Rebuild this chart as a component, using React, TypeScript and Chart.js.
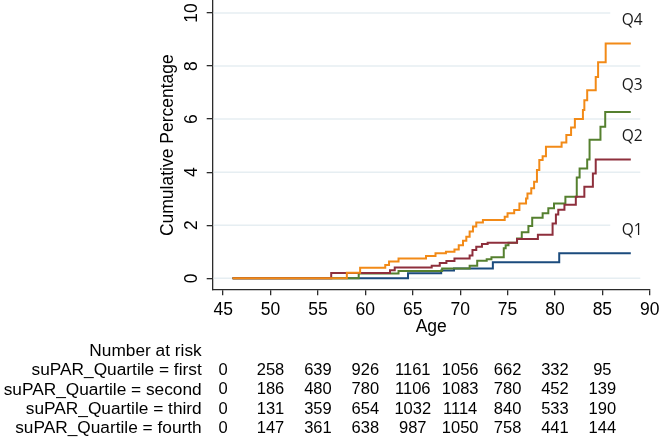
import { useEffect, useRef } from "react";
import { Chart, registerables } from "chart.js";

Chart.register(...registerables);

// ---- Data ----
const q1Age = [46, 64.5, 68.0, 69.35, 73.45, 80.45, 88];
const q1Pct = [0, 0.19, 0.29, 0.37, 0.61, 0.94, 0.94];

const q2Age = [46, 56.4, 62.6, 63.1, 67.0, 67.85, 68.55, 69.4, 71.0, 71.3, 71.7, 72.3, 72.9, 76.0, 78.2, 79.75, 80.1, 80.35, 81.0, 82.2, 83.1, 84.0, 84.3, 88];
const q2Pct = [0, 0.2, 0.3, 0.41, 0.47, 0.58, 0.65, 0.75, 0.86, 1.07, 1.19, 1.29, 1.34, 1.48, 1.64, 2.07, 2.4, 2.58, 2.77, 3.07, 3.45, 3.95, 4.48, 4.48];

const q3Age = [46, 59.3, 63.5, 68.1, 71.0, 71.8, 72.8, 73.3, 74.6, 74.8, 75.1, 76.0, 76.5, 77.2, 77.6, 78.7, 79.3, 79.9, 81.1, 82.3, 82.6, 83.4, 83.65, 84.8, 85.3, 88];
const q3Pct = [0, 0.18, 0.28, 0.37, 0.47, 0.66, 0.72, 0.79, 1.13, 1.25, 1.34, 1.5, 1.74, 1.97, 2.28, 2.45, 2.64, 2.82, 3.07, 3.8, 4.14, 4.48, 5.22, 5.71, 6.27, 6.27];

const q4Age = [46, 58.05, 59.45, 62.1, 62.5, 63.5, 66.4, 67.4, 68.5, 69.4, 69.85, 70.3, 70.65, 71.0, 71.35, 71.7, 72.4, 74.7, 75.0, 75.7, 76.25, 76.95, 77.1, 77.5, 77.8, 78.1, 78.35, 78.7, 79.05, 80.7, 81.2, 81.7, 82.1, 82.95, 83.1, 83.4, 84.3, 84.55, 85.35, 88];
const q4Pct = [0, 0.21, 0.4, 0.5, 0.63, 0.75, 0.84, 0.94, 1.0, 1.09, 1.25, 1.42, 1.57, 1.76, 1.95, 2.1, 2.2, 2.32, 2.45, 2.57, 2.82, 3.01, 3.2, 3.39, 3.64, 4.08, 4.46, 4.6, 4.96, 5.12, 5.4, 5.68, 6.0, 6.34, 6.71, 7.09, 7.59, 8.14, 8.85, 8.85];

const seriesNames = ["Q1", "Q2", "Q3", "Q4"];
const xTicks = [45, 50, 55, 60, 65, 70, 75, 80, 85, 90];
const yTicks = [0, 2, 4, 6, 8, 10];

const riskAges = [45, 50, 55, 60, 65, 70, 75, 80, 85];
const riskLabels = [
  "suPAR_Quartile = first",
  "suPAR_Quartile = second",
  "suPAR_Quartile = third",
  "suPAR_Quartile = fourth",
];
const riskFirst = [0, 258, 639, 926, 1161, 1056, 662, 332, 95];
const riskSecond = [0, 186, 480, 780, 1106, 1083, 780, 452, 139];
const riskThird = [0, 131, 359, 654, 1032, 1114, 840, 533, 190];
const riskFourth = [0, 147, 361, 638, 987, 1050, 758, 441, 144];

// ---- Styling ----
const FONT = "'Liberation Sans', Arial, sans-serif";
const LABEL_FONT = "'Open Sans', 'Noto Sans', sans-serif";
const AXIS = "#2b2b2b";
const GRID = "#e6eef2";
const COLORS = ["#1b4b7d", "#8e2f3c", "#55802f", "#f28a17"];
const LABEL_AT_X = 88.15;
const LABEL_AT_Y = [1.78, 5.33, 7.28, 9.7];
const GRID_END = 89.0;

const toPts = (ages: number[], pct: number[]) => ages.map((a, i) => ({ x: a, y: pct[i] }));

const overlay = {
  id: "overlay",
  beforeDatasetsDraw(chart: any) {
    const { ctx, chartArea, scales } = chart;
    const x = scales.x;
    const y = scales.y;
    ctx.save();
    ctx.strokeStyle = GRID;
    ctx.lineWidth = 1.5;
    const xEnd = x.getPixelForValue(GRID_END);
    yTicks.forEach((v) => {
      const py = y.getPixelForValue(v);
      ctx.beginPath();
      ctx.moveTo(chartArea.left + 1, py);
      ctx.lineTo(xEnd, py);
      ctx.stroke();
    });
    // series labels with white boxes
    ctx.font = `15.5px ${LABEL_FONT}`;
    ctx.textAlign = "center";
    ctx.textBaseline = "middle";
    seriesNames.forEach((name, i) => {
      const px = x.getPixelForValue(LABEL_AT_X);
      const py = y.getPixelForValue(LABEL_AT_Y[i]);
      ctx.fillStyle = "#ffffff";
      ctx.fillRect(px - 22, py - 12, 44, 22);
      ctx.fillStyle = "#1a1a1a";
      ctx.fillText(name, px, py);
    });
    ctx.restore();
  },
  afterDraw(chart: any) {
    const { ctx, chartArea, scales } = chart;
    const x = scales.x;
    const y = scales.y;
    ctx.save();
    ctx.fillStyle = "#000";
    ctx.font = `17.5px ${FONT}`;
    ctx.textAlign = "center";
    ctx.textBaseline = "middle";
    yTicks.forEach((v) => {
      const py = y.getPixelForValue(v);
      ctx.save();
      ctx.translate(chartArea.left - 21, py);
      ctx.rotate(-Math.PI / 2);
      ctx.fillText(String(v), 0, 0);
      ctx.restore();
    });
    // number at risk table
    const rows = [riskFirst, riskSecond, riskThird, riskFourth];
    const top = 351;
    const rowH = 19.4;
    ctx.font = `17.3px ${FONT}`;
    ctx.textAlign = "right";
    ctx.fillText("Number at risk", chartArea.left - 11, top);
    rows.forEach((row, r) => {
      const py = top + rowH * (r + 1);
      ctx.textAlign = "right";
      ctx.font = `17.3px ${FONT}`;
      ctx.fillText(riskLabels[r], chartArea.left - 11, py);
      ctx.textAlign = "center";
      ctx.font = `16.5px ${FONT}`;
      row.forEach((n, c) => {
        ctx.fillText(String(n), x.getPixelForValue(riskAges[c]), py);
      });
    });
    ctx.restore();
  },
};

export default function App() {
  const ref = useRef<HTMLCanvasElement | null>(null);
  useEffect(() => {
    if (!ref.current) return;
    const series = [
      toPts(q1Age, q1Pct),
      toPts(q2Age, q2Pct),
      toPts(q3Age, q3Pct),
      toPts(q4Age, q4Pct),
    ];
    const orders = [3, 1, 2, 0];
    const chart = new Chart(ref.current, {
      type: "line",
      data: {
        datasets: series.map((d, i) => ({
          label: seriesNames[i],
          data: d,
          stepped: true,
          borderColor: COLORS[i],
          backgroundColor: COLORS[i],
          borderWidth: 2,
          pointRadius: 0,
          fill: false,
          order: orders[i],
        })),
      },
      options: {
        animation: false,
        responsive: false,
        maintainAspectRatio: false,
        devicePixelRatio: 1,
        layout: { padding: { left: 0, top: 1, right: 11.3, bottom: 103.7 } },
        plugins: { legend: { display: false }, tooltip: { enabled: false } },
        scales: {
          x: {
            type: "linear",
            min: 43.9,
            max: 90,
            afterBuildTicks: (s: any) => {
              s.ticks = xTicks.map((v) => ({ value: v }));
            },
            afterFit: (s: any) => {
              s.height = 48;
            },
            ticks: {
              autoSkip: false,
              maxRotation: 0,
              padding: 4.5,
              color: "#000",
              font: { family: FONT, size: 17.5 },
            },
            grid: { display: true, drawOnChartArea: false, drawTicks: true, tickLength: 6, color: AXIS, lineWidth: 1.3 },
            border: { display: true, color: AXIS, width: 1.3 },
            title: { display: true, text: "Age", color: "#000", font: { family: FONT, size: 17.5 }, padding: 0 },
          },
          y: {
            type: "linear",
            min: -0.414,
            max: 10.45,
            afterBuildTicks: (s: any) => {
              s.ticks = yTicks.map((v) => ({ value: v }));
            },
            afterFit: (s: any) => {
              s.width = 212.7;
            },
            ticks: { display: false },
            grid: { display: true, drawOnChartArea: false, drawTicks: true, tickLength: 6, color: AXIS, lineWidth: 1.3 },
            border: { display: true, color: AXIS, width: 1.3 },
            title: {
              display: true,
              text: "Cumulative Percentage",
              color: "#000",
              font: { family: FONT, size: 17.5 },
              padding: { top: 157.5, bottom: 0 },
            },
          },
        },
      },
      plugins: [overlay],
    });
    return () => chart.destroy();
  }, []);
  return (
    <div style={{ position: "absolute", left: 0, top: 0, width: 664, height: 441, background: "#fff" }}>
      <canvas ref={ref} width={664} height={441} />
    </div>
  );
}
